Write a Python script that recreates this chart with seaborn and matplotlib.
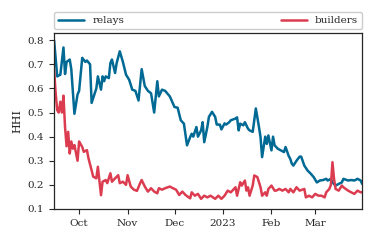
import pandas as pd
import numpy as np
import matplotlib
matplotlib.use("Agg")
import matplotlib.pyplot as plt
import matplotlib.dates as mdates
import seaborn as sns

# =====================================
# DATA (days counted from 2022-09-15)
# =====================================

start = pd.Timestamp("2022-09-15")

relay_days = [0, 2, 4, 6, 7, 8, 10, 11, 13, 15, 16, 18, 20, 21, 23, 24, 26, 27, 28, 30,
              31, 32, 33, 35, 36, 37, 39, 40, 42, 44, 46, 48, 50, 52, 54, 56, 58, 60, 62, 64,
              66, 67, 69, 71, 74, 77, 79, 81, 83, 85, 87, 88, 89, 91, 92, 94, 95, 96, 98, 99,
              101, 103, 104, 106, 107, 109, 110, 112, 113, 116, 117, 118, 119, 121, 122, 124, 125, 127, 128, 129,
              131, 132, 133, 135, 136, 137, 139, 140, 141, 143, 145, 147, 148, 150, 151, 152, 153, 155, 157, 158,
              160, 162, 164, 166, 168, 170, 172, 174, 175, 177, 178, 180, 182, 184, 185, 188, 190, 192, 194, 196,
              197]
relay_vals = [0.80, 0.65, 0.657, 0.77, 0.66, 0.71, 0.72, 0.68, 0.495, 0.575, 0.59, 0.727, 0.71, 0.716, 0.70, 0.54, 0.58, 0.60, 0.65, 0.595,
              0.65, 0.63, 0.65, 0.643, 0.705, 0.72, 0.664, 0.705, 0.754, 0.71, 0.657, 0.636, 0.595, 0.59, 0.55, 0.68, 0.61, 0.59, 0.58, 0.50,
              0.63, 0.567, 0.595, 0.59, 0.567, 0.523, 0.52, 0.468, 0.454, 0.364, 0.398, 0.412, 0.40, 0.44, 0.40, 0.426, 0.46, 0.377, 0.44, 0.482,
              0.503, 0.482, 0.45, 0.45, 0.43, 0.455, 0.45, 0.46, 0.468, 0.475, 0.48, 0.426, 0.454, 0.447, 0.46, 0.433, 0.426, 0.42, 0.468, 0.517,
              0.44, 0.398, 0.315, 0.40, 0.37, 0.405, 0.343, 0.40, 0.364, 0.35, 0.343, 0.336, 0.357, 0.32, 0.308, 0.288, 0.28, 0.30, 0.317, 0.317,
              0.28, 0.26, 0.247, 0.232, 0.21, 0.218, 0.22, 0.225, 0.218, 0.225, 0.21, 0.197, 0.204, 0.21, 0.225, 0.218, 0.22, 0.218, 0.225, 0.218,
              0.204]

builder_days = [0, 1, 2, 3, 4, 5, 6, 7, 8, 9, 10, 11, 12, 13, 15, 16, 18, 19, 21, 22,
                24, 25, 27, 28, 30, 31, 33, 34, 36, 37, 39, 41, 42, 44, 46, 47, 49, 51, 53, 55,
                56, 58, 60, 62, 64, 66, 67, 69, 71, 74, 76, 78, 80, 82, 84, 87, 88, 90, 92, 94,
                96, 98, 100, 103, 105, 107, 109, 111, 113, 116, 117, 119, 120, 122, 123, 124, 125, 127, 128, 130,
                132, 133, 135, 136, 137, 139, 141, 142, 144, 146, 148, 150, 151, 153, 155, 157, 160, 161, 163, 165,
                167, 169, 171, 173, 174, 176, 177, 178, 179, 180, 182, 184, 185, 188, 190, 192, 194, 196, 197]
builder_vals = [0.68, 0.58, 0.51, 0.50, 0.545, 0.50, 0.57, 0.44, 0.36, 0.42, 0.33, 0.38, 0.35, 0.365, 0.30, 0.38, 0.357, 0.337, 0.344, 0.31,
                0.26, 0.234, 0.227, 0.275, 0.157, 0.213, 0.22, 0.207, 0.248, 0.213, 0.227, 0.24, 0.207, 0.213, 0.20, 0.24, 0.193, 0.18, 0.175, 0.207,
                0.22, 0.193, 0.172, 0.186, 0.172, 0.165, 0.186, 0.18, 0.186, 0.193, 0.186, 0.18, 0.158, 0.172, 0.158, 0.144, 0.169, 0.155, 0.1625, 0.142,
                0.155, 0.148, 0.155, 0.142, 0.155, 0.142, 0.155, 0.176, 0.169, 0.19, 0.155, 0.211, 0.197, 0.218, 0.176, 0.19, 0.155, 0.197, 0.239, 0.232,
                0.19, 0.155, 0.169, 0.155, 0.183, 0.197, 0.176, 0.176, 0.183, 0.176, 0.183, 0.169, 0.183, 0.169, 0.19, 0.176, 0.183, 0.148, 0.155, 0.148,
                0.1625, 0.155, 0.155, 0.148, 0.169, 0.183, 0.20, 0.294, 0.225, 0.183, 0.176, 0.197, 0.19, 0.176, 0.169, 0.1625, 0.176, 0.169, 0.169]

relays = pd.DataFrame({"date": start + pd.to_timedelta(relay_days, unit="D"), "HHI": relay_vals})
builders = pd.DataFrame({"date": start + pd.to_timedelta(builder_days, unit="D"), "HHI": builder_vals})

# =====================================
# PLOT
# =====================================

sns.set_style("ticks")
plt.rcParams["font.family"] = ["DejaVu Serif"]
plt.rcParams["font.size"] = 8

fig = plt.figure(figsize=(3.73, 2.41), dpi=100)
ax = fig.add_axes([0.145, 0.133, 0.826, 0.730])

sns.lineplot(data=relays, x="date", y="HHI", color="#006994", linewidth=1.8, label="relays", ax=ax)
sns.lineplot(data=builders, x="date", y="HHI", color="#dc3c50", linewidth=1.8, label="builders", ax=ax)

ax.set_xlim(relays["date"].min(), relays["date"].max())
ax.set_ylim(0.1, 0.83)
ax.set_yticks([0.1, 0.2, 0.3, 0.4, 0.5, 0.6, 0.7, 0.8])

locator = mdates.MonthLocator()
ax.xaxis.set_major_locator(locator)
ax.xaxis.set_major_formatter(mdates.ConciseDateFormatter(locator, show_offset=False))

ax.set_xlabel("")
ax.set_ylabel("HHI")
ax.tick_params(labelsize=7.5, length=3.5, width=0.8)
for s in ax.spines.values():
    s.set_linewidth(0.9)

ax.legend(bbox_to_anchor=(0, 1.02, 1, 0.1), loc="lower left", mode="expand",
          ncol=2, borderaxespad=0, fontsize=7.5, handlelength=2.5, framealpha=1)

fig.savefig("out.png", dpi=100)
